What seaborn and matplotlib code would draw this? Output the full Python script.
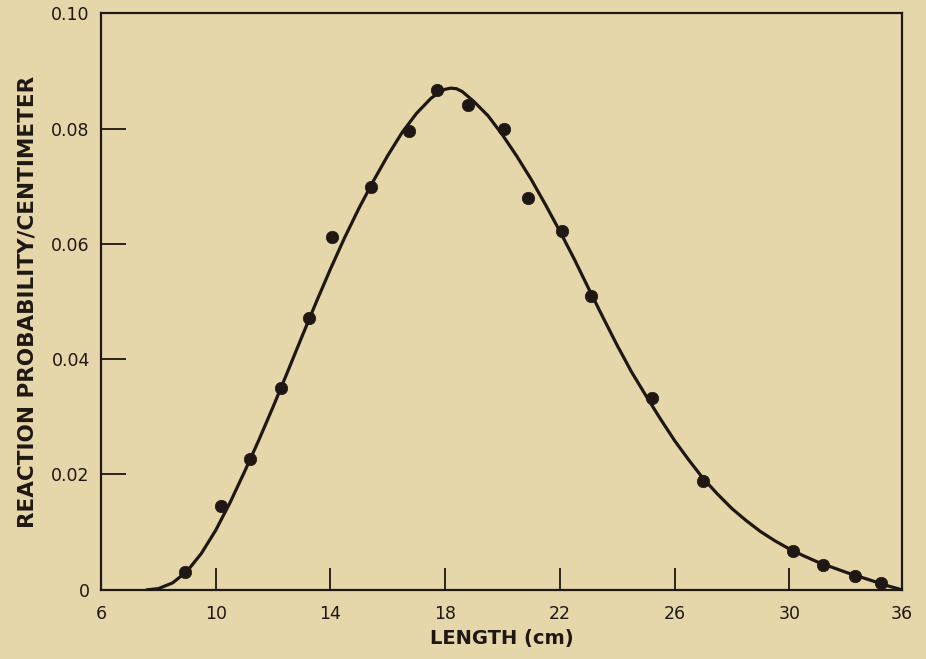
import matplotlib
matplotlib.use("Agg")
import matplotlib.pyplot as plt
import pandas as pd
import seaborn as sns

# measured points (length in cm, reaction probability per cm)
point_x = [8.93, 10.17, 11.19, 12.27, 13.25, 14.06, 15.43, 16.74, 17.71, 18.79,
           20.06, 20.88, 22.09, 23.10, 25.22, 26.98, 30.14, 31.19, 32.30, 33.20]
point_y = [0.0031, 0.0145, 0.0227, 0.0350, 0.0471, 0.0611, 0.0699, 0.0795, 0.0866, 0.0841,
           0.0800, 0.0679, 0.0622, 0.0510, 0.0332, 0.0188, 0.0068, 0.0043, 0.0024, 0.0011]

# fitted curve
curve_x = [7.6, 8.0, 8.5, 9.0, 9.5, 10.0, 10.5, 11.0, 11.5, 12.0, 12.5, 13.0, 13.5,
           14.0, 14.5, 15.0, 15.5, 16.0, 16.5, 17.0, 17.5, 17.8, 18.0, 18.2, 18.4,
           18.6, 19.0, 19.5, 20.0, 20.5, 21.0, 21.5, 22.0, 22.5, 23.0, 23.5, 24.0,
           24.5, 25.0, 25.5, 26.0, 26.5, 27.0, 27.5, 28.0, 28.5, 29.0, 29.5, 30.0,
           30.5, 31.0, 31.5, 32.0, 32.5, 33.0, 33.5, 33.93]
curve_y = [0.0, 0.0002, 0.0012, 0.0032, 0.0063, 0.0103, 0.0151, 0.0204, 0.0259, 0.0317,
           0.0377, 0.0438, 0.0498, 0.0556, 0.0611, 0.0662, 0.0709, 0.0753, 0.0793, 0.0826,
           0.0852, 0.0863, 0.0868, 0.0870, 0.0869, 0.0864, 0.0847, 0.0822, 0.0789, 0.0752,
           0.0712, 0.0668, 0.0622, 0.0574, 0.0523, 0.0473, 0.0424, 0.0378, 0.0337, 0.0297,
           0.0259, 0.0225, 0.0193, 0.0166, 0.0141, 0.0120, 0.0101, 0.0085, 0.0071, 0.0059,
           0.0048, 0.0039, 0.0030, 0.0022, 0.0014, 0.0006, 0.0]

x_ticks = [6, 10, 14, 18, 22, 26, 30]
x_end = 33.93
x_end_label = "36"
y_ticks = [0, 0.02, 0.04, 0.06, 0.08, 0.10]
y_labels = ["0", "0.02", "0.04", "0.06", "0.08", "0.10"]

bg = "#e5d7a9"
ink = "#1e1713"

sns.set_style("ticks")
plt.rcParams["font.family"] = ["DejaVu Sans"]

fig = plt.figure(figsize=(9.26, 6.59), dpi=100, facecolor=bg)
ax = fig.add_axes([0.109, 0.105, 0.865, 0.875])
ax.set_facecolor(bg)

df_curve = pd.DataFrame({"x": curve_x, "y": curve_y})
df_pts = pd.DataFrame({"x": point_x, "y": point_y})

sns.lineplot(data=df_curve, x="x", y="y", ax=ax, color=ink, linewidth=2.3,
             estimator=None, sort=False)
sns.scatterplot(data=df_pts, x="x", y="y", ax=ax, color=ink, s=80,
                edgecolor=ink, linewidth=0.5, zorder=3)

ax.set_xlim(6, x_end)
ax.set_ylim(0, 0.10)

ax.set_xticks(x_ticks + [x_end])
ax.set_xticklabels([str(t) for t in x_ticks] + [x_end_label])
ax.set_yticks(y_ticks)
ax.set_yticklabels(y_labels)

ax.tick_params(axis="x", direction="in", length=16, width=1.3, pad=11,
               colors=ink, labelsize=12.5)
ax.tick_params(axis="y", direction="in", length=18, width=1.3, pad=8,
               colors=ink, labelsize=12.5)

for s in ax.spines.values():
    s.set_color(ink)
    s.set_linewidth(1.6)

ax.set_xlabel("LENGTH (cm)", fontsize=14, fontweight="bold", color=ink, labelpad=4)
ax.set_ylabel("REACTION PROBABILITY/CENTIMETER", fontsize=15.5, fontweight="bold",
              color=ink, labelpad=10)

fig.savefig("out.png", dpi=100, facecolor=bg)
